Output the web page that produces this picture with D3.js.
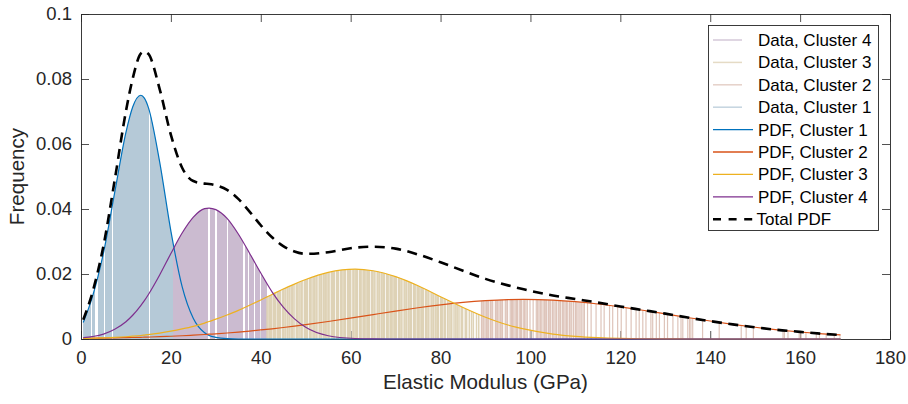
<!DOCTYPE html>
<html>
<head>
<meta charset="utf-8">
<script src="https://cdn.jsdelivr.net/npm/d3@7"></script>
<style>
  body { margin: 0; background: #fff; }
  svg { display: block; }
  text { font-family: "Liberation Sans", Arial, Helvetica, sans-serif; }
</style>
</head>
<body>
<svg id="chart" width="908" height="404"></svg>
<script>
// Elastic modulus grid (GPa) on which the fitted densities are sampled
const modulusGrid = [0.5, 2.5, 5, 7.5, 10, 11.5, 13.3, 14.1, 15, 17.5, 20, 22.5, 25, 27.5, 28.5, 30,
  32.5, 35, 37.5, 40, 42.5, 45, 47.5, 50, 55, 61, 65, 70, 75, 80, 85, 90, 95, 98.5,
  105, 110, 115, 120, 125, 130, 135, 140, 145, 150, 155, 160, 165, 169];

// Per-cluster probability densities on modulusGrid
const pdfCluster1 = [0.0051, 0.0128, 0.0265, 0.0451, 0.0636, 0.0714, 0.0750, 0.0741, 0.0712, 0.0545,
  0.0332, 0.0161, 0.0063, 0.0019, 0.0011, 0.0005, 0.0001, 0, 0, 0, 0, 0, 0, 0, 0, 0, 0, 0, 0, 0,
  0, 0, 0, 0, 0, 0, 0, 0, 0, 0, 0, 0, 0, 0, 0, 0, 0, 0];
const pdfCluster2 = [0.00019, 0.00023, 0.00028, 0.00034, 0.00041, 0.00046, 0.00053, 0.00056, 0.0006,
  0.00071, 0.00085, 0.0010, 0.00118, 0.00138, 0.00147, 0.0016, 0.00185, 0.00213, 0.00244, 0.00278,
  0.00314, 0.00354, 0.00396, 0.00441, 0.00538, 0.00664, 0.00751, 0.00859, 0.00961, 0.01052, 0.01128,
  0.01182, 0.01214, 0.0122, 0.01197, 0.01148, 0.01077, 0.00987, 0.00884, 0.00774, 0.00662, 0.00553,
  0.00452, 0.00361, 0.00282, 0.00215, 0.0016, 0.00125];
const pdfCluster3 = [0.00018, 0.00024, 0.00035, 0.0005, 0.0007, 0.00086, 0.00108, 0.0012, 0.00133,
  0.0018, 0.0024, 0.0031, 0.0039, 0.0049, 0.0054, 0.0061, 0.0074, 0.0088, 0.0104, 0.0120, 0.0137,
  0.0154, 0.0169, 0.0183, 0.0205, 0.0215, 0.0210, 0.0192, 0.0164, 0.0130, 0.0097, 0.0067, 0.0043,
  0.0031, 0.0015, 0.0008, 0.0004, 0.00017, 0.00007, 0.00003, 0, 0, 0, 0, 0, 0, 0, 0];
const pdfCluster4 = [0.0004, 0.00075, 0.0015, 0.0030, 0.0053, 0.0073, 0.0103, 0.0118, 0.0137, 0.0197,
  0.0263, 0.0326, 0.0375, 0.0401, 0.0403, 0.0398, 0.0371, 0.0323, 0.0264, 0.0203, 0.0145, 0.0098,
  0.0062, 0.0036, 0.0010, 0.00016, 0.00004, 0, 0, 0, 0, 0, 0, 0, 0, 0, 0, 0, 0, 0, 0, 0, 0, 0, 0, 0, 0, 0];
const pdfTotal = [0.0059, 0.0141, 0.0287, 0.0489, 0.0701, 0.0801, 0.0878, 0.0884, 0.0877, 0.0769,
  0.0628, 0.0527, 0.0486, 0.0478, 0.0477, 0.0473, 0.0459, 0.0431, 0.0392, 0.0350, 0.0313, 0.0286,
  0.0269, 0.0262, 0.0267, 0.0281, 0.0284, 0.0278, 0.0260, 0.0236, 0.0210, 0.0185, 0.0165, 0.0153,
  0.0134, 0.0123, 0.0112, 0.0100, 0.0089, 0.0078, 0.0066, 0.0055, 0.0045, 0.0036, 0.0028, 0.0022,
  0.0016, 0.00125];

// Measured moduli (GPa) assigned to each cluster
const dataCluster1 = [0.4, 0.6, 0.9, 1.3, 1.5, 1.8, 2.0, 2.6, 2.8, 3.0, 3.9, 4.1, 4.4, 4.6, 4.8, 5.5, 5.7,
  6.2, 6.5, 6.7, 7.3, 7.5, 7.8, 8.0, 8.1, 8.3, 8.6, 8.8, 8.9, 9.2, 9.4, 9.5, 9.7, 10.0, 10.1, 10.3,
  10.6, 10.7, 10.9, 11.2, 11.3, 11.5, 11.8, 12.0, 12.5, 12.7, 12.9, 13.0, 13.3, 13.5, 13.7, 13.8, 14.1,
  14.3, 14.4, 14.7, 14.9, 15.5, 15.7, 15.8, 16.1, 16.3, 16.5, 16.6, 16.9, 17.1, 17.3, 17.5, 18.1,
  18.3, 18.5, 18.7, 19.2, 19.4, 19.5, 19.8, 20.0, 20.2];
const dataCluster2 = [89.1, 89.4, 89.6, 89.9, 90.2, 90.4, 90.7, 91.1, 91.4, 91.6, 92.2, 92.4, 92.7, 93.0,
  93.3, 93.5, 93.8, 94.4, 94.6, 94.9, 95.5, 95.8, 96.0, 96.3, 96.6, 96.9, 97.1, 97.5, 97.8, 98.0, 98.4,
  98.7, 99.0, 99.3, 99.9, 100.6, 101.3, 101.6, 101.9, 102.2, 102.4, 102.8, 103.1, 103.4, 103.6, 104.0,
  104.3, 104.5, 104.9, 105.2, 105.5, 105.8, 106.2, 106.4, 106.7, 107.1, 107.4, 107.7, 108.0, 108.3,
  108.7, 109.0, 109.2, 109.6, 110.0, 110.3, 110.6, 111.0, 111.3, 111.7, 112.0, 112.7, 113.5, 114.6,
  115.7, 116.4, 117.6, 118.3, 119.4, 120.2, 121.3, 122.4, 123.5, 124.2, 125.0, 125.7, 126.8, 127.2,
  128.0, 128.7, 129.8, 130.5, 131.7, 132.8, 133.5, 133.9, 135.0, 135.4, 135.7, 136.1, 138.3, 142.0,
  146.9, 148.0, 149.6, 156.2, 156.5, 157.3, 159.8, 160.2, 161.3, 163.6, 164.3, 165.8, 167.6, 168.9];
const dataCluster3 = [41.4, 41.6, 41.9, 42.2, 42.4, 42.8, 43.0, 43.3, 43.7, 43.9, 44.2, 44.4, 44.9, 45.1,
  45.4, 45.6, 46.0, 46.3, 46.5, 46.9, 47.1, 47.4, 47.9, 48.1, 48.3, 48.7, 49.0, 49.2, 49.7, 49.9, 50.2,
  50.4, 50.9, 51.1, 51.4, 51.8, 52.0, 52.3, 52.5, 53.0, 53.2, 53.5, 53.9, 54.1, 54.4, 54.7, 55.0, 55.2,
  55.7, 55.9, 56.2, 56.4, 56.9, 57.1, 57.3, 57.8, 58.0, 58.3, 58.6, 58.8, 59.3, 59.5, 59.8, 60.0, 60.5,
  60.7, 61.0, 61.3, 61.5, 62.0, 62.2, 62.5, 62.9, 63.1, 63.4, 63.7, 64.0, 64.2, 64.7, 64.9, 65.2, 65.4,
  65.9, 66.1, 66.4, 66.8, 67.0, 67.3, 67.5, 68.0, 68.2, 68.5, 68.9, 69.1, 69.4, 69.7, 70.0, 70.2, 70.7,
  70.9, 71.2, 71.4, 71.9, 72.1, 72.4, 72.8, 73.0, 73.3, 73.5, 74.0, 74.2, 74.5, 74.9, 75.1, 75.4, 75.7,
  76.0, 76.2, 76.7, 76.9, 77.2, 77.4, 77.9, 78.1, 78.4, 78.8, 79.0, 79.3, 79.5, 80.0, 80.2, 80.5, 80.9,
  81.1, 81.6, 81.9, 82.3, 82.5, 83.0, 83.4, 83.7, 84.1, 84.6, 84.9, 85.5, 85.8, 86.4, 86.9, 87.3, 88.0, 88.5];
const dataCluster4 = [20.4, 20.6, 20.9, 21.1, 21.3, 21.6, 21.8, 22.0, 22.3, 22.5, 22.7, 23.0, 23.2, 23.4,
  23.7, 23.9, 24.1, 24.4, 24.6, 24.8, 25.1, 25.3, 25.5, 25.8, 26.0, 26.2, 26.5, 26.7, 26.9, 27.2, 27.4,
  27.6, 27.9, 28.1, 28.9, 29.1, 29.3, 29.6, 30.4, 30.6, 30.8, 31.1, 31.3, 31.5, 31.8, 32.0, 32.2, 33.0,
  33.2, 33.7, 33.9, 34.1, 34.4, 34.6, 35.2, 35.4, 35.7, 35.9, 36.7, 36.9, 37.5, 37.7, 37.9, 38.2, 38.9,
  39.1, 39.4, 39.6, 40.3, 40.5, 40.9, 41.1];

const xTicks = [0, 20, 40, 60, 80, 100, 120, 140, 160, 180];
const yTicks = [0, 0.02, 0.04, 0.06, 0.08, 0.1];
const yTickLabels = ["0", "0.02", "0.04", "0.06", "0.08", "0.1"];
const xAxisTitle = "Elastic Modulus (GPa)";
const yAxisTitle = "Frequency";

const clusterColors = { 1: "#0072BD", 2: "#D95319", 3: "#EDB120", 4: "#7E2F8E" };
const dataColors = { 1: "rgb(181,201,215)", 2: "rgb(222,196,186)", 3: "rgb(222,210,182)", 4: "rgb(203,187,208)" };
// sticks in the dense clusters are snapped to whole pixels, the sparse ones stay soft
const stickWidth = { 1: 2, 2: 1.2, 3: 1.5, 4: 2 };
const stickSnap = { 1: true, 2: false, 3: false, 4: true };

const svg = d3.select("#chart");
const x = d3.scaleLinear().domain([0, 180]).range([81, 890]);
const y = d3.scaleLinear().domain([0, 0.1]).range([339, 14]);
const FONT = '"Liberation Sans", Arial, Helvetica, sans-serif';
const AX = "#262626";

const pdfs = { 1: pdfCluster1, 2: pdfCluster2, 3: pdfCluster3, 4: pdfCluster4 };
const dataSets = { 1: dataCluster1, 2: dataCluster2, 3: dataCluster3, 4: dataCluster4 };

// ---- axes (ticks point inward, box all round) ----
function styleAxis(g) {
  g.attr("font-family", FONT).attr("font-size", null);
  g.select(".domain").remove();
  g.selectAll(".tick line").attr("stroke", AX).attr("stroke-width", 0.8);
  g.selectAll(".tick text").attr("fill", AX).style("font-size", "18.5px");
}
svg.append("g").attr("transform", `translate(0,${y(0)})`)
  .call(d3.axisBottom(x).tickValues(xTicks).tickFormat(d3.format("d"))
    .tickSize(-8).tickSizeOuter(0).tickPadding(12))
  .call(styleAxis);
svg.append("g").attr("transform", `translate(${x(0)},0)`)
  .call(d3.axisLeft(y).tickValues(yTicks).tickFormat((d, i) => yTickLabels[i])
    .tickSize(-8).tickSizeOuter(0).tickPadding(9))
  .call(styleAxis);
svg.append("g").attr("transform", `translate(0,${y(0.1)})`)
  .call(d3.axisTop(x).tickValues(xTicks).tickFormat("").tickSize(-8).tickSizeOuter(0))
  .call(styleAxis);
svg.append("g").attr("transform", `translate(${x(180)},0)`)
  .call(d3.axisRight(y).tickValues(yTicks).tickFormat("").tickSize(-8).tickSizeOuter(0))
  .call(styleAxis);

// ---- data sticks: each measurement drawn up to its cluster's density ----
const areaUnder = pdf => d3.area()
  .x((d, i) => x(modulusGrid[i])).y0(y(0)).y1(d => y(d))
  .curve(d3.curveMonotoneX)(pdf);
const defs = svg.append("defs");
[1, 2, 3, 4].forEach(k => {
  defs.append("clipPath").attr("id", "under" + k).append("path").attr("d", areaUnder(pdfs[k]));
});
[4, 3, 2, 1].forEach(k => {
  const px = d => stickSnap[k] ? Math.round(x(d)) : x(d);
  svg.append("g").attr("clip-path", `url(#under${k})`)
    .selectAll("line").data(dataSets[k]).join("line")
    .attr("x1", px).attr("x2", px)
    .attr("y1", y(0)).attr("y2", y(0.1))
    .attr("stroke", dataColors[k]).attr("stroke-width", stickWidth[k])
    .attr("shape-rendering", stickSnap[k] ? "crispEdges" : "auto");
});

// box outline
svg.append("rect")
  .attr("x", x(0) + 0.5).attr("y", y(0.1) + 0.5)
  .attr("width", x(180) - x(0)).attr("height", y(0) - y(0.1))
  .attr("fill", "none").attr("stroke", AX).attr("stroke-width", 0.9);

// axis titles
svg.append("text").attr("x", (x(0) + x(180)) / 2).attr("y", 389)
  .attr("text-anchor", "middle").attr("fill", AX).style("font-size", "20.6px").text(xAxisTitle);
svg.append("text").attr("transform", `translate(24,${(y(0) + y(0.1)) / 2}) rotate(-90)`)
  .attr("text-anchor", "middle").attr("fill", AX).style("font-size", "20.6px").text(yAxisTitle);

// ---- density curves ----
const curveOf = pdf => d3.line()
  .x((d, i) => x(modulusGrid[i])).y(d => y(d))
  .curve(d3.curveMonotoneX)(pdf);
[1, 2, 3, 4].forEach(k => {
  svg.append("path").attr("d", curveOf(pdfs[k]))
    .attr("fill", "none").attr("stroke", clusterColors[k]).attr("stroke-width", 1.2);
});
svg.append("path").attr("d", curveOf(pdfTotal))
  .attr("fill", "none").attr("stroke", "#000").attr("stroke-width", 2.6)
  .attr("stroke-dasharray", "10,6.5");

// ---- legend ----
const legendItems = [
  { label: "Data, Cluster 4", kind: "data", k: 4 },
  { label: "Data, Cluster 3", kind: "data", k: 3 },
  { label: "Data, Cluster 2", kind: "data", k: 2 },
  { label: "Data, Cluster 1", kind: "data", k: 1 },
  { label: "PDF, Cluster 1", kind: "pdf", k: 1 },
  { label: "PDF, Cluster 2", kind: "pdf", k: 2 },
  { label: "PDF, Cluster 3", kind: "pdf", k: 3 },
  { label: "PDF, Cluster 4", kind: "pdf", k: 4 },
  { label: "Total PDF", kind: "total" }
];
const lg = svg.append("g");
lg.append("rect").attr("x", 708.5).attr("y", 25.5).attr("width", 170).attr("height", 205)
  .attr("fill", "#fff").attr("stroke", AX).attr("stroke-width", 0.9);
legendItems.forEach((it, i) => {
  const cy = 40 + i * 22.4;
  const ln = lg.append("line").attr("x1", 713).attr("y1", cy).attr("y2", cy);
  if (it.kind === "data") {
    ln.attr("x2", 742).attr("stroke", dataColors[it.k]).attr("stroke-opacity", 0.8).attr("stroke-width", 1.5);
  } else if (it.kind === "pdf") {
    ln.attr("x2", 753).attr("stroke", clusterColors[it.k]).attr("stroke-width", 1.3);
  } else {
    ln.attr("x2", 753).attr("stroke", "#000").attr("stroke-width", 2.6).attr("stroke-dasharray", "8,7.6");
  }
  lg.append("text").attr("x", it.kind === "total" ? 756.5 : 758).attr("y", cy).attr("dy", "0.35em")
    .attr("fill", "#000").style("font-size", "17px").text(it.label);
});
</script>
</body>
</html>
